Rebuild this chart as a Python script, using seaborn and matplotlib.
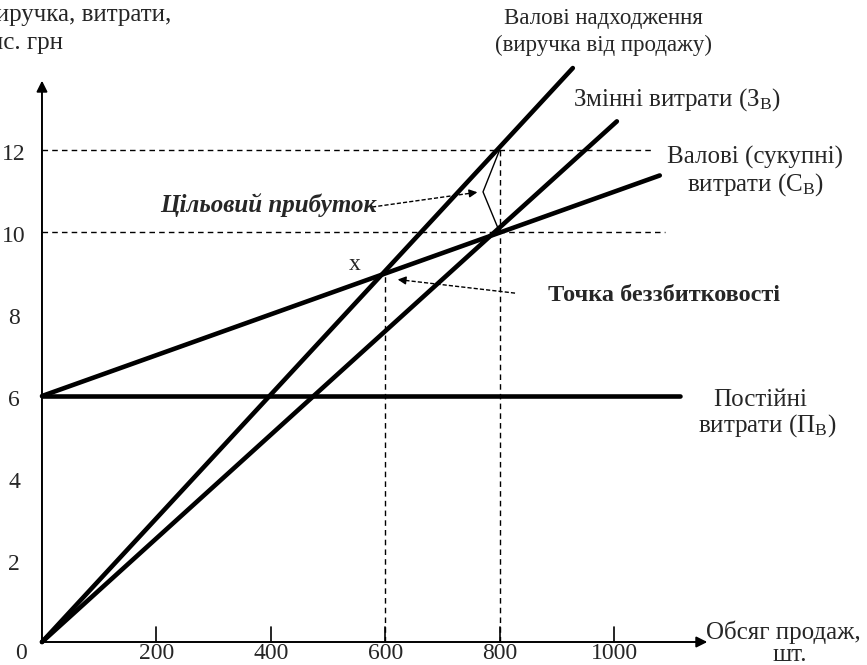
import numpy as np
import pandas as pd
import seaborn as sns
import matplotlib.pyplot as plt

# Values (volume in pcs, money in thousand UAH)
x_ticks = [200, 400, 600, 800, 1000]
y_ticks = [0, 2, 4, 6, 8, 10, 12]

revenue_x = [0, 928]
revenue_y = [0, 14.0]
variable_x = [0, 1005]
variable_y = [0, 12.7]
total_x = [0, 1080]
total_y = [6, 11.38]
fixed_x = [0, 1115]
fixed_y = [6, 6]

breakeven = (600, 9)
target_x = 800
target_revenue = 12
target_cost = 10

sns.set_theme(style="white")
plt.rcParams['font.family'] = ['Liberation Serif', 'DejaVu Serif']
plt.rcParams['mathtext.fontset'] = 'custom'
plt.rcParams['mathtext.rm'] = 'Liberation Serif'
plt.rcParams['mathtext.it'] = 'Liberation Serif:italic'

fig = plt.figure(figsize=(8.67, 6.65), dpi=100)
ax = fig.add_axes([0, 0, 1, 1])
ax.set_xlim(-73.4, 1442.3)
ax.set_ylim(-0.561, 15.66)
ax.axis('off')

# Axes with arrows
ax.annotate('', xy=(0, 13.76), xytext=(0, 0),
            arrowprops=dict(arrowstyle='-|>', lw=1.4, color='black', mutation_scale=16))
ax.annotate('', xy=(1168, 0), xytext=(0, 0),
            arrowprops=dict(arrowstyle='-|>', lw=1.4, color='black', mutation_scale=16))

for t in x_ticks:
    ax.plot([t, t], [0, 0.37], color='black', lw=1.2)
    ax.text(t, -0.27, str(t), ha='center', va='center', fontsize=17)
ax.text(-37, -0.27, '0', ha='center', va='center', fontsize=17)
for t in y_ticks[1:]:
    ax.text(-49, t - 0.1, str(t), ha='center', va='center', fontsize=17)

# Guide lines
dash = (0, (4, 3))
ax.plot([0, 1066], [target_revenue, target_revenue], color='black', lw=1.0, ls=dash)
ax.plot([0, 1089], [target_cost, target_cost], color='black', lw=1.0, ls=dash)
ax.plot([breakeven[0], breakeven[0]], [0, breakeven[1]], color='black', lw=1.0, ls=dash)
ax.plot([target_x, target_x], [0, target_revenue], color='black', lw=1.0, ls=dash)

# Main lines
for xs, ys in [(revenue_x, revenue_y), (variable_x, variable_y),
               (total_x, total_y), (fixed_x, fixed_y)]:
    sns.lineplot(x=xs, y=ys, ax=ax, color='black', linewidth=3.3)

# Target profit bracket
vertex = (771, 10.98)
ax.plot([target_x, vertex[0], target_x], [target_revenue, vertex[1], target_cost],
        color='black', lw=1.0)

def dashed_arrow(tail, head):
    dx = head[0] - tail[0]
    dy = head[1] - tail[1]
    near = (head[0] - dx * 0.08, head[1] - dy * 0.08)
    ax.plot([tail[0], near[0]], [tail[1], near[1]], color='black', lw=1.0, ls=(0, (3, 1.5)))
    ax.annotate('', xy=head, xytext=near,
                arrowprops=dict(arrowstyle='-|>', lw=1.0, color='black', mutation_scale=12))

dashed_arrow((577, 10.61), (vertex[0] - 5, vertex[1]))
dashed_arrow((827, 8.51), (617, 8.85))

# Labels
ax.text(227, 15.29, 'Виручка, витрати,', ha='right', va='center', fontsize=18)
ax.text(37, 14.61, 'тис. грн', ha='right', va='center', fontsize=18)

ax.text(981, 15.22, 'Валові надходження', ha='center', va='center', fontsize=16.5)
ax.text(981, 14.56, '(виручка від продажу)', ha='center', va='center', fontsize=16.5)
ax.text(928, 13.22, 'Змінні витрати (З$_{\\mathrm{В}}$)', ha='left', va='center', fontsize=18)
ax.text(1247, 11.83, 'Валові (сукупні)', ha='center', va='center', fontsize=18)
ax.text(1247, 11.15, 'витрати (С$_{\\mathrm{В}}$)', ha='center', va='center', fontsize=18)
ax.text(1173, 5.9, 'Постійні', ha='left', va='center', fontsize=18)
ax.text(1147, 5.28, 'витрати (П$_{\\mathrm{В}}$)', ha='left', va='center', fontsize=18)
ax.text(1161, 0.24, 'Обсяг продаж,', ha='left', va='center', fontsize=18)
ax.text(1308, -0.32, 'шт.', ha='center', va='center', fontsize=18)

ax.text(206, 10.66, 'Цільовий прибуток', ha='left', va='center', fontsize=18,
        fontweight='bold', fontstyle='italic')
ax.text(547, 9.2, 'x', ha='center', va='center', fontsize=17)
ax.text(885, 8.46, 'Точка беззбитковості', ha='left', va='center', fontsize=17.5,
        fontweight='bold')

fig.savefig('out.png', dpi=100)
